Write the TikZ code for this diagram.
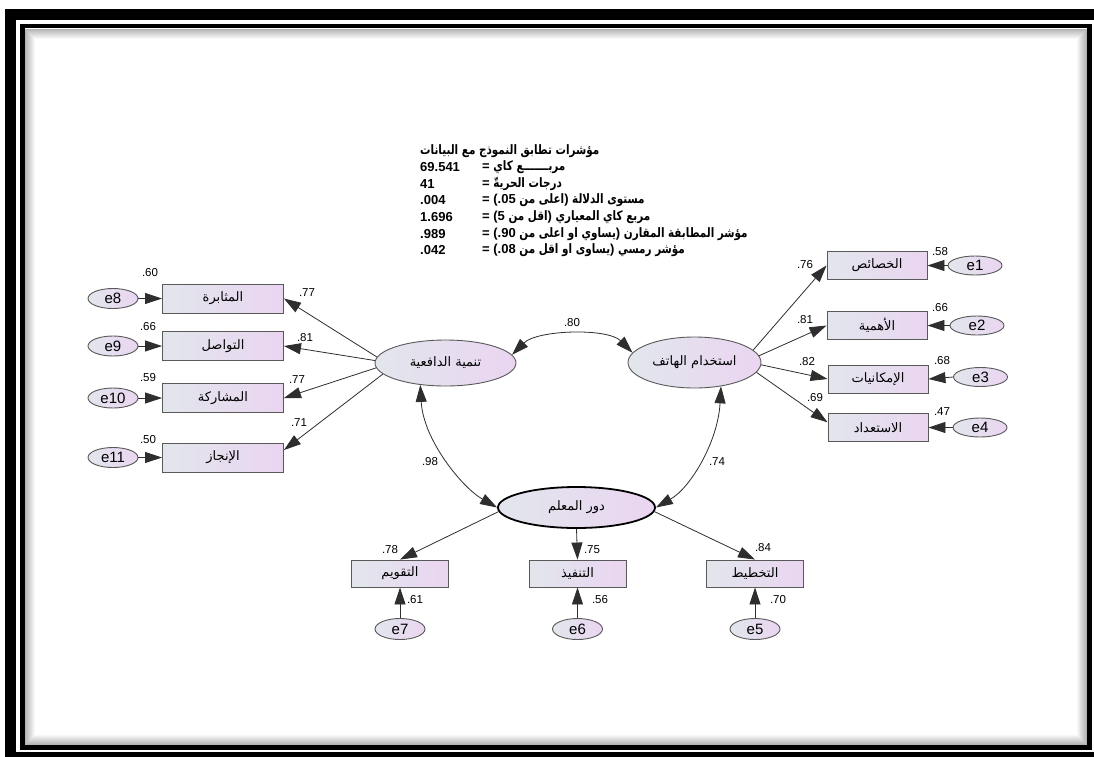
\documentclass[tikz,border=0pt]{standalone}
\usepackage{fontspec}
\setmainfont{Liberation Sans}
\newfontfamily\arabicfont[Script=Arabic]{DejaVu Sans}
\newfontfamily\arabicnarrow[Script=Arabic,FakeStretch=0.8]{DejaVu Sans}
\TeXXeTstate=1
\usetikzlibrary{arrows.meta,shapes.geometric,calc}
\newcommand{\AR}[1]{{\arabicfont\beginR #1\endR}}
\newcommand{\ARN}[1]{{\arabicnarrow\beginR #1\endR}}
\definecolor{lbg}{HTML}{E2E6EC}
\definecolor{rbg}{HTML}{EAD5F1}
\definecolor{lnc}{HTML}{2E2E2E}
\begin{document}
\begin{tikzpicture}[x=1pt,y=-1pt,
  obs/.style={rectangle, draw=black!65, line width=0.9pt, left color=lbg, right color=rbg,
    minimum width=121pt, minimum height=29pt, inner sep=0pt, font=\fontsize{13}{15}\selectfont},
  obsR/.style={obs, minimum width=100pt, minimum height=28pt},
  obsB/.style={obs, minimum width=97pt, minimum height=27pt},
  err/.style={ellipse, draw=black!65, line width=0.9pt, left color=lbg, right color=rbg,
    minimum width=50pt, minimum height=20pt, inner sep=0pt, font=\fontsize{15}{17}\selectfont},
  errR/.style={err, minimum width=54pt, minimum height=19pt},
  lat/.style={ellipse, draw=black!65, line width=0.9pt, left color=lbg, right color=rbg,
    inner sep=0pt, font=\fontsize{13}{15}\selectfont},
  pathar/.style={draw=lnc, line width=0.8pt, -{Triangle[length=17pt,width=11pt]}},
  covar/.style={draw=lnc, line width=0.8pt, {Triangle[length=17pt,width=11pt]}-{Triangle[length=17pt,width=11pt]}},
  lab/.style={font=\fontsize{11.5}{13}\selectfont, inner sep=0pt},
  fitt/.style={anchor=west, inner sep=0pt, font=\fontsize{13}{15}\selectfont\bfseries}
]
\useasboundingbox (0,0) rectangle (1094,756);
\fill[white] (0,0) rectangle (1094,756);
% frame shadow
\foreach \i in {1,...,10}{
  \draw[black, opacity={0.32*(1-\i/11)}, line width=1pt]
    (24.5+\i,28+\i) rectangle (1087.5-\i,745.5-\i);
}
\draw[black, line width=4.5pt] (22.5,26) rectangle (1089.5,747.5);
\draw[black, line width=11pt] (10.5,14.5) rectangle (1105,757.5);

% fit indices
\node[fitt] (ttl) at (420,151) {\ARN{مؤشرات تطابق النموذج مع البيانات}};
\node[fitt] (n1) at (420,167) {69.541};
\node[fitt] (q1) at (482,167) {= \ARN{مربـــــــع كاي}};
\node[fitt] (n2) at (420,184) {41};
\node[fitt] (q2) at (482,184) {= \ARN{درجات الحريةّ}};
\node[fitt] (n3) at (420,200) {.004};
\node[fitt] (q3) at (482,200) {= (.05 \ARN{اعلى من}) \ARN{مستوى الدلالة}};
\node[fitt] (n4) at (420,217) {1.696};
\node[fitt] (q4) at (482,217) {= (5 \ARN{اقل من}) \ARN{مربع كاي المعياري}};
\node[fitt] (n5) at (420,234) {.989};
\node[fitt] (q5) at (482,234) {= (.90 \ARN{يساوي او اعلى من}) \ARN{مؤشر المطابقة المقارن}};
\node[fitt] (n6) at (420,250) {.042};
\node[fitt] (q6) at (482,250) {= (.08 \ARN{يساوى او اقل من}) \ARN{مؤشر رمسي}};

% latent variables
\node[lat, minimum width=141pt, minimum height=46pt] (L1) at (445.5,363) {\AR{تنمية الدافعية}};
\node[lat, minimum width=133pt, minimum height=51pt] (L2) at (694.5,362.5) {\AR{استخدام الهاتف}};
\node[lat, draw=black, line width=1.8pt, minimum width=157pt, minimum height=41pt] (L3) at (576.5,507.5) {\AR{دور المعلم}};

% left indicators
\node[obs] (b8) at (223,298.5) {\AR{المثابرة}};
\node[obs] (b9) at (223,346) {\AR{التواصل}};
\node[obs] (b10) at (223,398) {\AR{المشاركة}};
\node[obs] (b11) at (223,457.5) {\AR{الإنجاز}};
\node[err] (e8) at (113,298.5) {e8};
\node[err] (e9) at (113,346) {e9};
\node[err] (e10) at (113,398) {e10};
\node[err] (e11) at (113,457.5) {e11};

% right indicators
\node[obsR] (r1) at (877,265.5) {\AR{الخصائص}};
\node[obsR] (r2) at (877,325.5) {\AR{الأهمية}};
\node[obsR] (r3) at (878,379) {\AR{الإمكانيات}};
\node[obsR] (r4) at (878,427.5) {\AR{الاستعداد}};
\node[errR] (e1) at (975,265.5) {e1};
\node[errR] (e2) at (977,325.5) {e2};
\node[errR] (e3) at (980.5,377) {e3};
\node[errR] (e4) at (980,427.5) {e4};

% bottom indicators
\node[obsB] (t7) at (400,573.5) {\AR{التقويم}};
\node[obsB] (t6) at (577.5,573.5) {\AR{التنفيذ}};
\node[obsB] (t5) at (755,573.5) {\AR{التخطيط}};
\node[err, minimum height=21pt] (e7) at (400,629) {e7};
\node[err, minimum height=21pt] (e6) at (577.5,629) {e6};
\node[err, minimum height=21pt] (e5) at (755,629) {e5};

% loadings
\draw[pathar] (L1.175) -- (b8.east);
\draw[pathar] (L1.178) -- (b9.east);
\draw[pathar] (L1.184) -- (b10.east);
\draw[pathar] (L1.190) -- ($(b11.north east)!0.25!(b11.south east)$);
\draw[pathar] (L2.12) -- (r1.west);
\draw[pathar] (L2.6) -- (r2.west);
\draw[pathar] (L2.-2) -- (r3.west);
\draw[pathar] (L2.-9) -- ($(r4.north west)!0.32!(r4.south west)$);
\draw[pathar] (L3.183) -- (t7.north);
\draw[pathar] (L3.south) -- (t6.north);
\draw[pathar] (L3.-3) -- (t5.north);

% errors
\foreach \e/\b in {e8/b8,e9/b9,e10/b10,e11/b11}{\draw[pathar] (\e.east) -- (\b.west);}
\foreach \e/\b in {e1/r1,e2/r2,e3/r3,e4/r4}{\draw[pathar] (\e.west) -- (\b.east);}
\foreach \e/\b in {e7/t7,e6/t6,e5/t5}{\draw[pathar] (\e.north) -- (\b.south);}

% covariances
\draw[covar] (L1.7) .. controls +(25,-25) and +(-25,-25) .. (L2.171);
\draw[covar] (L1.221) .. controls +(3,55) and +(-35,-20) .. (L3.west);
\draw[covar] (L2.-42) .. controls +(-3,55) and +(35,-20) .. (L3.east);

% labels
\node[lab] (l60) at (150,273) {.60};
\node[lab] (l66a) at (148,327) {.66};
\node[lab] (l59) at (148,378) {.59};
\node[lab] (l50) at (148,440) {.50};
\node[lab] (l77a) at (307,293) {.77};
\node[lab] (l81a) at (305,338) {.81};
\node[lab] (l77b) at (297,380) {.77};
\node[lab] (l71) at (299,423) {.71};
\node[lab] (l76) at (805,265) {.76};
\node[lab] (l81b) at (805,320) {.81};
\node[lab] (l82) at (807,362) {.82};
\node[lab] (l69) at (815,398) {.69};
\node[lab] (l58) at (940,252) {.58};
\node[lab] (l66b) at (940,308) {.66};
\node[lab] (l68) at (942,361) {.68};
\node[lab] (l47) at (942,412) {.47};
\node[lab] (l78) at (390,550) {.78};
\node[lab] (l75) at (592,550) {.75};
\node[lab] (l84) at (763,548) {.84};
\node[lab] (l61) at (415,600) {.61};
\node[lab] (l56) at (600,600) {.56};
\node[lab] (l70) at (778,600) {.70};
\node[lab] (l80) at (572,323) {.80};
\node[lab] (l98) at (430,462) {.98};
\node[lab] (l74) at (717,462) {.74};
\end{tikzpicture}
\end{document}
